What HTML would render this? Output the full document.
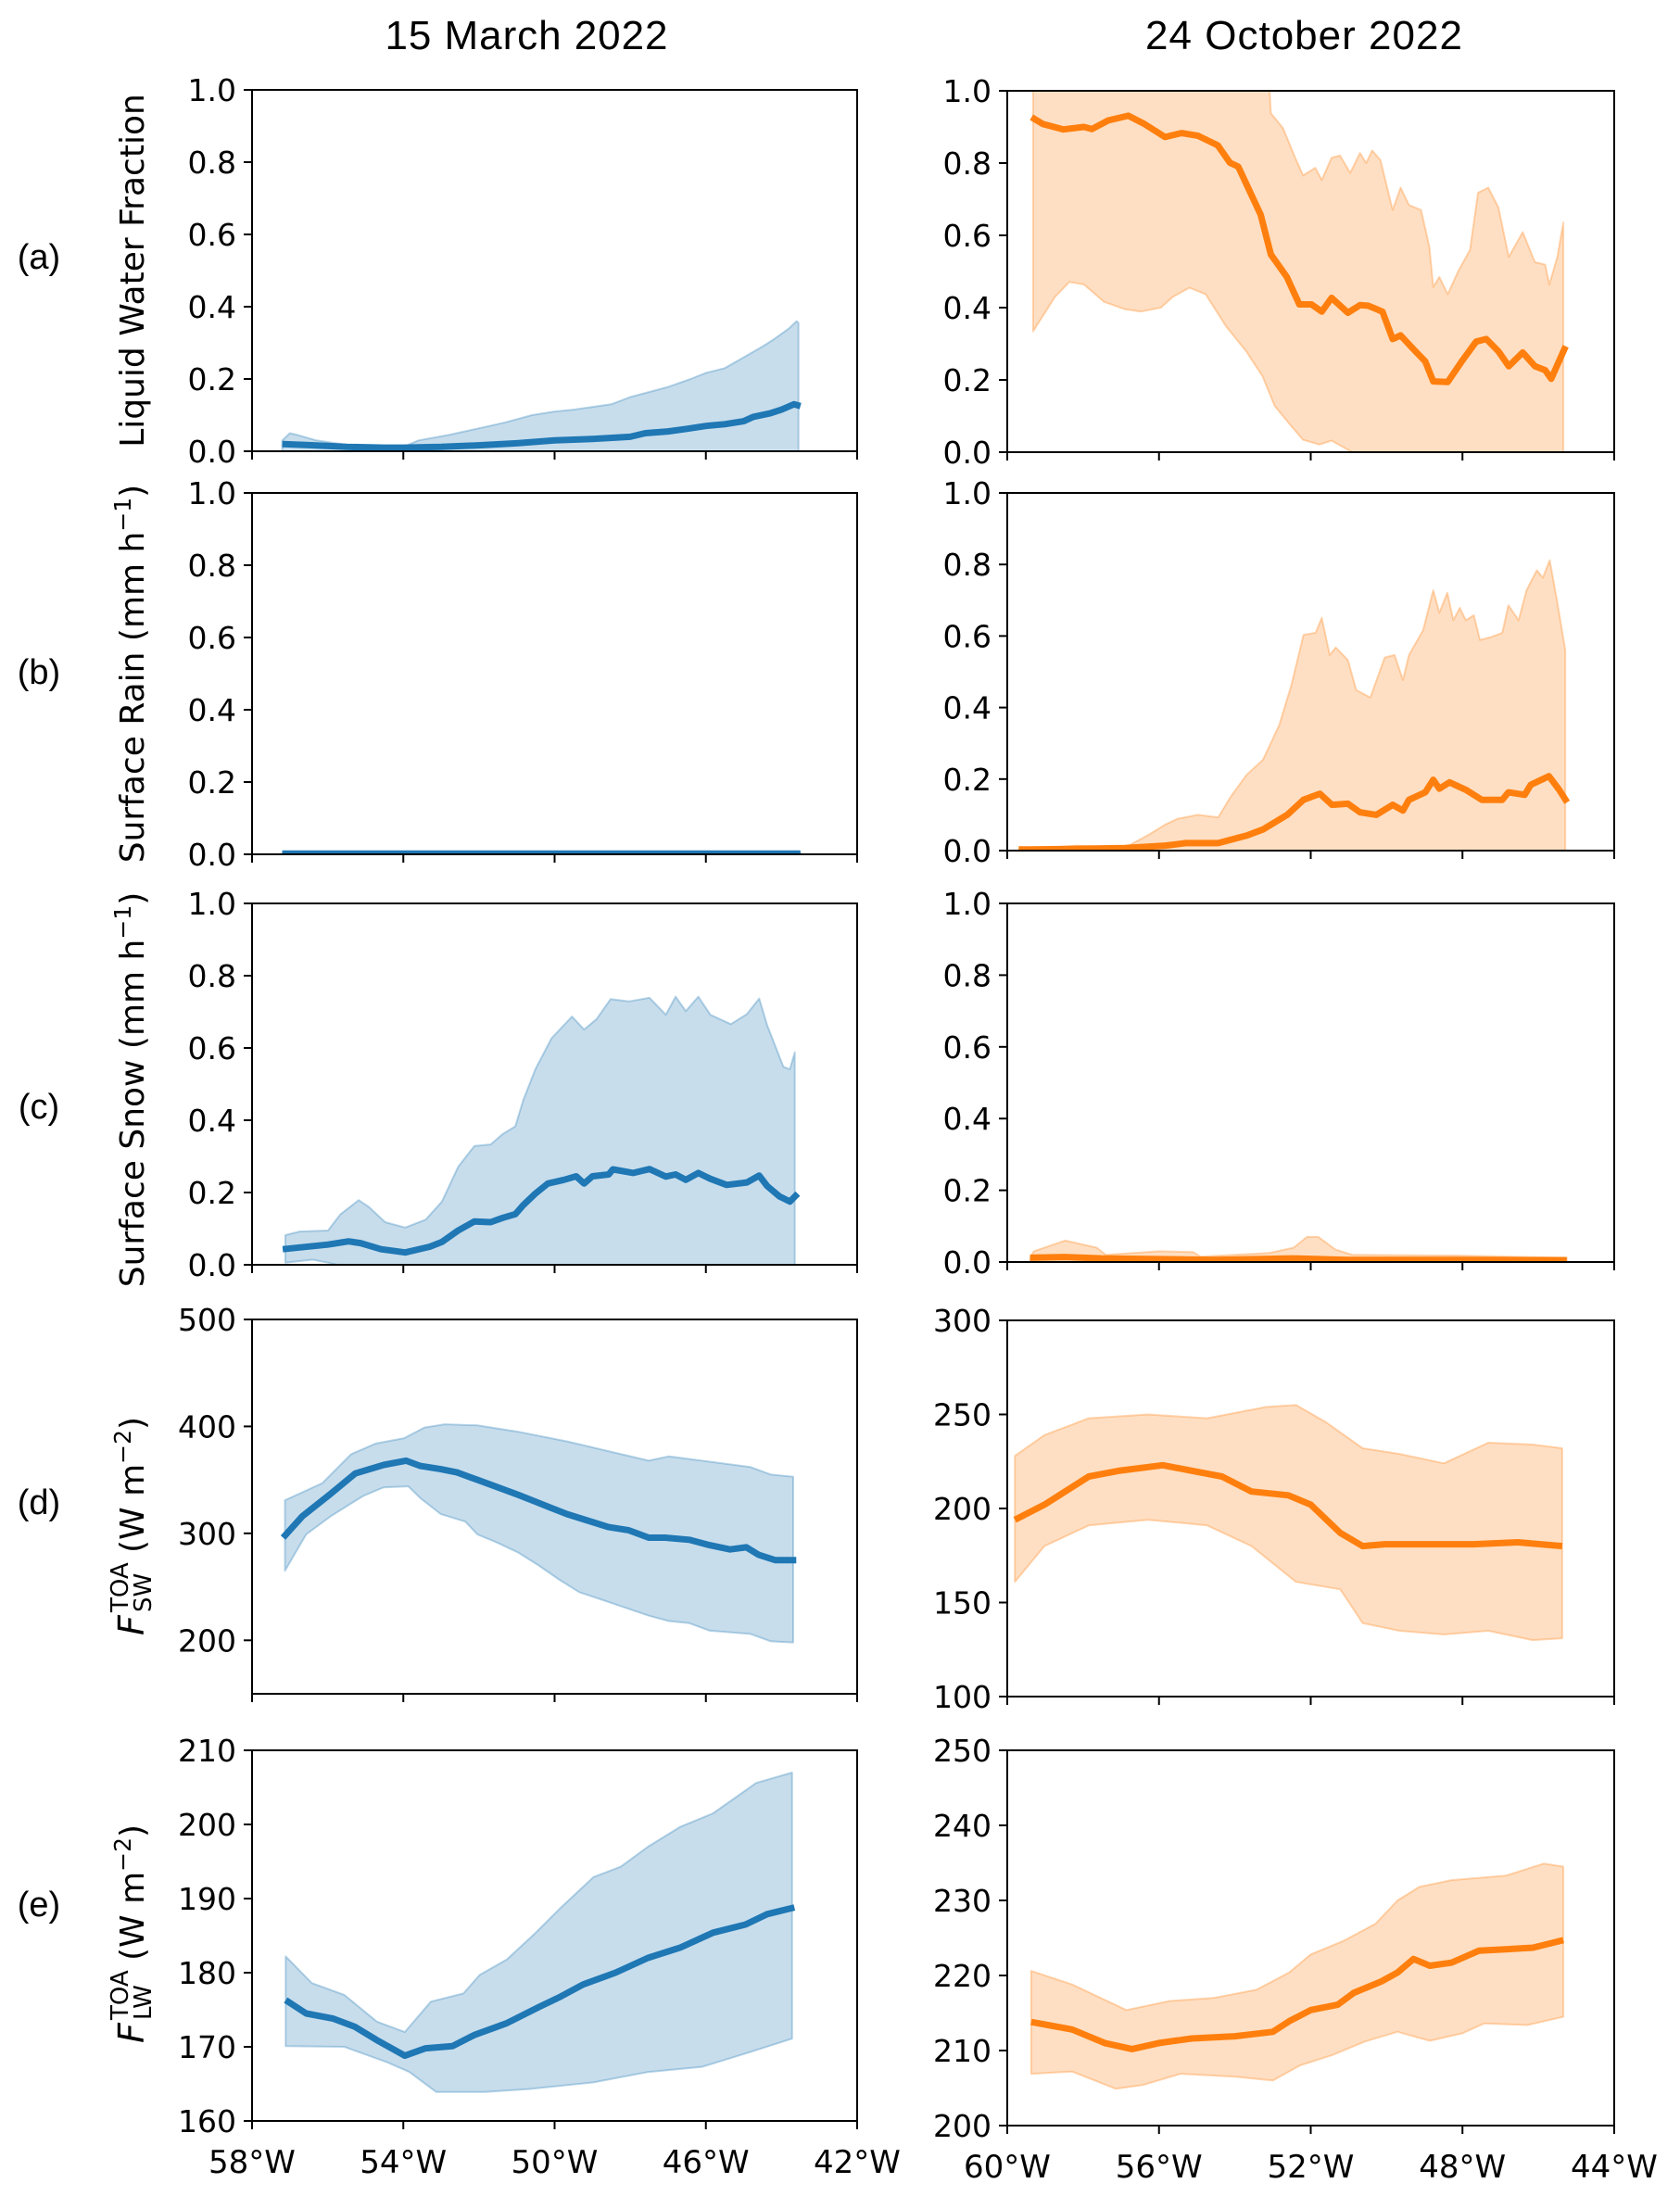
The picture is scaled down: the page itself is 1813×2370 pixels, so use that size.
<!DOCTYPE html>
<html><head><meta charset="utf-8">
<style>
html,body{margin:0;padding:0;background:#fff;}
svg{display:block;}
text{font-family:"DejaVu Sans","Liberation Sans",sans-serif;fill:#000;}
.ttl{font-family:"Liberation Sans","DejaVu Sans",sans-serif;font-size:44px;}
.rl{font-family:"Liberation Sans","DejaVu Sans",sans-serif;font-size:38px;}
</style></head>
<body>
<svg id="fig" width="1813" height="2370" viewBox="0 0 1813 2370" xmlns="http://www.w3.org/2000/svg">
<text class="ttl" x="568" y="53" text-anchor="middle" textLength="305">15 March 2022</text>
<text class="ttl" x="1407" y="53" text-anchor="middle" textLength="342">24 October 2022</text>
<text class="rl" x="42" y="290" text-anchor="middle">(a)</text>
<text class="rl" x="42" y="738" text-anchor="middle">(b)</text>
<text class="rl" x="42" y="1207" text-anchor="middle">(c)</text>
<text class="rl" x="42" y="1634" text-anchor="middle">(d)</text>
<text class="rl" x="42" y="2068" text-anchor="middle">(e)</text>
</svg>
<script>
// ---------- data (longitude in degrees, negative = W) ----------
const xTicksLeft = [-58,-54,-50,-46,-42];
const xTickLabelsLeft = ["58°W","54°W","50°W","46°W","42°W"];
const xTicksRight = [-60,-56,-52,-48,-44];
const xTickLabelsRight = ["60°W","56°W","52°W","48°W","44°W"];
const yTicksFrac = [0,0.2,0.4,0.6,0.8,1.0];
const yTickLabelsFrac = ["0.0","0.2","0.4","0.6","0.8","1.0"];
const yTicksSWL = [200,300,400,500];
const yTicksSWR = [100,150,200,250,300];
const yTicksLWL = [160,170,180,190,200,210];
const yTicksLWR = [200,210,220,230,240,250];

// (a) left
const aLMeanLon = [-57.2,-56.5,-55.5,-54.5,-54,-53,-51.9,-51,-50,-49,-48,-47.6,-47,-46.5,-46,-45.5,-45,-44.75,-44.3,-44,-43.67,-43.5];
const aLMean    = [0.02,0.017,0.012,0.01,0.01,0.012,0.017,0.022,0.03,0.034,0.04,0.05,0.055,0.062,0.07,0.075,0.083,0.095,0.105,0.115,0.13,0.125];
const aLHiLon = [-57.2,-57.0,-56.8,-56.3,-55.5,-54.7,-54,-53.6,-52.8,-51.9,-51.3,-50.6,-50,-49.5,-48.5,-48,-47,-46.4,-46,-45.5,-45,-44.5,-44.2,-43.8,-43.6,-43.55];
const aLHi    = [0.03,0.05,0.045,0.03,0.018,0.01,0.012,0.03,0.045,0.066,0.08,0.1,0.11,0.115,0.13,0.15,0.178,0.2,0.217,0.23,0.26,0.29,0.31,0.34,0.36,0.355];
const aLLoLon = [-57.2,-43.55];
const aLLo    = [0,0];
// (a) right
const aRMeanLon = [-59.36,-59.06,-58.52,-57.98,-57.77,-57.34,-56.81,-56.38,-55.84,-55.41,-54.98,-54.45,-54.13,-53.91,-53.59,-53.32,-53.05,-52.63,-52.30,-51.98,-51.71,-51.45,-51.02,-50.70,-50.48,-50.11,-49.84,-49.63,-49.30,-48.98,-48.77,-48.39,-48.02,-47.64,-47.37,-47.05,-46.78,-46.41,-46.09,-45.82,-45.66,-45.28];
const aRMean    = [0.927,0.908,0.893,0.9,0.894,0.918,0.931,0.908,0.872,0.883,0.876,0.849,0.801,0.79,0.718,0.657,0.547,0.485,0.409,0.409,0.389,0.427,0.386,0.407,0.405,0.389,0.313,0.323,0.286,0.251,0.196,0.194,0.251,0.306,0.313,0.279,0.238,0.276,0.238,0.227,0.203,0.293];
const aRHiLon = [-59.32,-53.11,-53.05,-52.73,-52.41,-52.20,-51.88,-51.71,-51.45,-51.23,-50.96,-50.70,-50.54,-50.38,-50.16,-49.84,-49.63,-49.41,-49.09,-48.87,-48.77,-48.61,-48.39,-48.12,-47.80,-47.59,-47.32,-47.05,-46.78,-46.41,-46.09,-45.82,-45.71,-45.50,-45.34];
const aRHi    = [1.05,1.05,0.938,0.897,0.815,0.766,0.787,0.753,0.815,0.821,0.773,0.828,0.8,0.835,0.808,0.67,0.732,0.684,0.67,0.567,0.457,0.485,0.437,0.499,0.56,0.718,0.732,0.677,0.54,0.609,0.526,0.519,0.464,0.54,0.636];
const aRLoLon = [-59.32,-58.74,-58.36,-57.98,-57.45,-56.91,-56.48,-55.95,-55.63,-55.20,-54.77,-54.23,-53.70,-53.27,-52.95,-52.52,-52.20,-51.77,-51.45,-50.91,-45.34];
const aRLo    = [0.334,0.43,0.471,0.464,0.416,0.396,0.389,0.4,0.43,0.455,0.437,0.348,0.279,0.21,0.128,0.073,0.034,0.021,0.032,0,0];

// (b) left
const bLMeanLon = [-57.2,-43.5];
const bLMean    = [0.002,0.002];
const bLHiLon = [-57.2,-43.5];
const bLHi    = [0.004,0.004];
const bLLoLon = [-57.2,-43.5];
const bLLo    = [0,0];
// (b) right
const bRMeanLon = [-59.7,-59.41,-56.90,-55.83,-55.29,-54.44,-53.69,-53.26,-52.62,-52.19,-51.76,-51.44,-51.02,-50.70,-50.27,-49.84,-49.57,-49.41,-48.98,-48.77,-48.61,-48.34,-47.91,-47.49,-46.95,-46.79,-46.36,-46.20,-45.88,-45.72,-45.45,-45.24];
const bRMean    = [0.003,0.003,0.007,0.014,0.021,0.021,0.042,0.059,0.1,0.142,0.159,0.128,0.131,0.107,0.1,0.128,0.112,0.142,0.163,0.198,0.173,0.191,0.17,0.142,0.142,0.163,0.156,0.184,0.2,0.208,0.17,0.135];
const bRHiLon = [-59.7,-59.41,-58.18,-56.90,-56.26,-55.83,-55.51,-54.97,-54.44,-54.12,-53.69,-53.26,-52.83,-52.51,-52.19,-51.87,-51.71,-51.50,-51.34,-51.02,-50.80,-50.43,-50.05,-49.79,-49.57,-49.41,-49.04,-48.77,-48.61,-48.40,-48.24,-48.07,-47.91,-47.70,-47.54,-47.27,-46.95,-46.79,-46.52,-46.31,-46.04,-45.88,-45.70,-45.51,-45.29];
const bRHi    = [0.003,0.003,0.014,0.008,0.045,0.073,0.089,0.1,0.093,0.149,0.212,0.254,0.351,0.463,0.603,0.609,0.651,0.547,0.568,0.533,0.449,0.428,0.54,0.547,0.477,0.547,0.616,0.728,0.665,0.721,0.644,0.679,0.644,0.658,0.589,0.596,0.609,0.686,0.644,0.728,0.784,0.763,0.812,0.7,0.561];
const bRLoLon = [-59.7,-45.29];
const bRLo    = [0,0];

// (c) left
const cLMeanLon = [-57.19,-55.99,-55.45,-55.13,-54.59,-53.95,-53.30,-52.98,-52.55,-52.12,-51.69,-51.37,-51.04,-50.83,-50.51,-50.18,-49.75,-49.43,-49.22,-49.0,-48.57,-48.46,-47.92,-47.49,-47.06,-46.80,-46.53,-46.20,-45.88,-45.45,-44.91,-44.59,-44.38,-44.05,-43.78,-43.57];
const cLMean    = [0.043,0.056,0.065,0.06,0.043,0.034,0.05,0.063,0.095,0.12,0.118,0.13,0.14,0.165,0.197,0.225,0.235,0.245,0.225,0.245,0.25,0.264,0.254,0.265,0.244,0.25,0.235,0.254,0.238,0.221,0.228,0.247,0.218,0.189,0.175,0.197];
const cLHiLon = [-57.12,-56.74,-55.99,-55.67,-55.18,-54.91,-54.48,-53.95,-53.41,-52.98,-52.55,-52.12,-51.69,-51.37,-51.04,-50.83,-50.51,-50.08,-49.54,-49.22,-48.89,-48.52,-48.03,-47.49,-47.06,-46.80,-46.53,-46.20,-45.88,-45.34,-44.91,-44.59,-44.38,-43.95,-43.78,-43.65];
const cLHi    = [0.082,0.092,0.095,0.139,0.179,0.16,0.118,0.103,0.125,0.175,0.271,0.329,0.333,0.362,0.383,0.455,0.541,0.627,0.687,0.651,0.68,0.735,0.729,0.739,0.692,0.742,0.702,0.742,0.692,0.666,0.694,0.737,0.663,0.548,0.541,0.588];
const cLLoLon = [-57.12,-56.4,-55.99,-55.75,-43.65];
const cLLo    = [0.006,0.014,0.006,0,0];
// (c) right
const cRMeanLon = [-59.4,-58.5,-57.5,-56,-54.5,-52.5,-51,-48,-45.25];
const cRMean    = [0.012,0.014,0.01,0.008,0.006,0.01,0.006,0.006,0.005];
const cRHiLon = [-59.4,-59.3,-58.47,-57.64,-57.4,-56.0,-55.1,-54.9,-53.1,-52.45,-52.1,-51.8,-51.35,-50.9,-48.15,-45.25];
const cRHi    = [0.01,0.03,0.06,0.04,0.02,0.03,0.028,0.015,0.025,0.04,0.07,0.07,0.035,0.02,0.018,0.012];
const cRLoLon = [-59.4,-45.25];
const cRLo    = [0,0];

// (d) left
const dLMeanLon = [-57.18,-56.67,-55.92,-55.27,-54.52,-53.93,-53.55,-53.01,-52.58,-52.04,-51.50,-50.96,-50.53,-50.10,-49.67,-49.13,-48.59,-48.05,-47.51,-47.08,-46.44,-45.90,-45.36,-44.93,-44.61,-44.17,-43.61];
const dLMean    = [296,316,337,356,364,368,363,360,357,350,343,336,330,324,318,312,306,303,296,296,294,289,285,287,280,275,275];
const dLHiLon = [-57.13,-56.14,-55.38,-54.73,-53.98,-53.44,-52.90,-52.04,-50.96,-49.67,-48.59,-47.51,-46.98,-45.90,-44.82,-44.28,-43.69];
const dLHi    = [331,347,374,384,389,399,402,401,395,386,377,368,372,367,362,355,353];
const dLLoLon = [-57.13,-56.57,-55.92,-55.06,-54.52,-53.87,-53.55,-53.01,-52.36,-52.04,-51.50,-50.96,-50.42,-49.89,-49.35,-48.59,-47.51,-46.98,-46.44,-45.90,-44.82,-44.28,-43.69];
const dLLo    = [265,299,316,335,343,344,333,318,311,299,291,282,270,257,245,236,223,218,216,209,206,199,198];
// (d) right
const dRMeanLon = [-59.80,-59.02,-57.85,-57.07,-55.90,-55.12,-54.34,-53.56,-52.59,-52.0,-51.22,-50.63,-50.05,-48.88,-47.71,-46.54,-45.37];
const dRMean    = [194,202,217,220,223,220,217,209,207,202,187,180,181,181,181,182,180];
const dRHiLon = [-59.80,-59.02,-57.85,-56.29,-54.73,-53.17,-52.39,-51.61,-50.63,-49.66,-48.49,-47.32,-46.15,-45.37];
const dRHi    = [228,239,248,250,248,254,255,246,232,229,224,235,234,232];
const dRLoLon = [-59.80,-59.02,-57.85,-56.29,-54.73,-53.56,-52.39,-51.22,-50.63,-49.66,-48.49,-47.32,-46.15,-45.37];
const dRLo    = [161,180,191,194,191,180,161,157,139,135,133,135,130,131];

// (e) left
const eLMeanLon = [-57.11,-56.57,-55.85,-55.28,-54.70,-53.96,-53.41,-52.70,-52.12,-51.26,-50.40,-49.83,-49.25,-48.39,-47.53,-46.67,-45.81,-44.95,-44.38,-43.66];
const eLMean    = [176.3,174.5,173.8,172.7,170.9,168.8,169.8,170.1,171.6,173.2,175.4,176.8,178.4,180,182,183.4,185.4,186.5,187.9,188.8];
const eLHiLon = [-57.11,-56.42,-55.56,-54.70,-53.96,-53.27,-52.41,-51.98,-51.26,-50.54,-49.83,-48.97,-48.25,-47.53,-46.67,-45.81,-44.67,-43.72];
const eLHi    = [182.2,178.6,177,173.4,172,176.1,177.2,179.7,181.8,185.2,188.8,192.9,194.3,197,199.7,201.5,205.6,207];
const eLLoLon = [-57.11,-55.56,-54.42,-53.84,-53.13,-51.84,-50.69,-48.97,-47.53,-46.10,-44.95,-43.72];
const eLLo    = [170.1,170,167.9,166.6,163.9,163.9,164.3,165.2,166.6,167.3,169.1,171.1];
// (e) right
const eRMeanLon = [-59.37,-58.29,-57.43,-56.71,-56.0,-55.14,-54.0,-53.0,-52.57,-52.0,-51.29,-50.86,-50.14,-49.71,-49.29,-48.86,-48.29,-47.57,-46.86,-46.14,-45.34];
const eRMean    = [213.8,212.8,211,210.2,211,211.6,211.9,212.5,213.9,215.4,216.1,217.7,219.2,220.4,222.2,221.3,221.7,223.3,223.5,223.7,224.7];
const eRHiLon = [-59.37,-58.29,-56.86,-55.71,-54.57,-53.43,-52.57,-52.0,-51.14,-50.29,-49.71,-49.14,-48.29,-46.86,-45.86,-45.34];
const eRHi    = [220.6,218.8,215.4,216.6,217,218.1,220.4,222.8,224.6,226.9,230,231.8,232.7,233.3,234.9,234.5];
const eRLoLon = [-59.37,-58.29,-57.14,-56.43,-55.43,-54.0,-53.0,-52.29,-51.43,-50.57,-49.71,-48.86,-48.0,-47.43,-46.29,-45.34];
const eRLo    = [206.9,207.2,204.9,205.4,206.9,206.5,206,208,209.4,211.2,212.5,211.3,212.3,213.6,213.4,214.5];

// ---------- drawing ----------
const NS = "http://www.w3.org/2000/svg";
const svg = document.getElementById("fig");
const BLUE = "#1f77b4", ORANGE = "#ff7f0e";
const LEFT = {x0:272, x1:925, lon0:-58, lon1:-42};
const RIGHT = {x0:1087, x1:1742, lon0:-60, lon1:-44};

function mk(tag, attrs, parent){
  const e = document.createElementNS(NS, tag);
  for (const k in attrs) e.setAttribute(k, attrs[k]);
  (parent||svg).appendChild(e);
  return e;
}

function panel(id, col, top, bot, ymin, ymax, yticks, ylabels, showX, color, s){
  const g = mk("g", {});
  
  
  const sx = v => col.x0 + (v - col.lon0) / (col.lon1 - col.lon0) * (col.x1 - col.x0);
  const sy = v => bot - (v - ymin) / (ymax - ymin) * (bot - top);
  const clip = mk("clipPath", {id: "clip-" + id}, g);
  mk("rect", {x: col.x0, y: top, width: col.x1 - col.x0, height: bot - top}, clip);
  const dg = mk("g", {"clip-path": "url(#clip-" + id + ")"}, g);
  // band
  let pts = [];
  for (let i = 0; i < s.hiLon.length; i++) pts.push(sx(s.hiLon[i]).toFixed(1) + "," + sy(s.hi[i]).toFixed(1));
  for (let i = s.loLon.length - 1; i >= 0; i--) pts.push(sx(s.loLon[i]).toFixed(1) + "," + sy(s.lo[i]).toFixed(1));
  const band = mk("polygon", {points: pts.join(" "), fill: color, "fill-opacity": 0.25, stroke: color, "stroke-opacity": 0.3, "stroke-width": 2, "stroke-linejoin": "round"}, dg);
  
  
  let lp = [];
  for (let i = 0; i < s.meanLon.length; i++) lp.push(sx(s.meanLon[i]).toFixed(1) + "," + sy(s.mean[i]).toFixed(1));
  const line = mk("polyline", {points: lp.join(" "), fill: "none", stroke: color, "stroke-width": 7, "stroke-linejoin": "round"}, dg);
  
  
  // frame
  const fr = mk("rect", {x: col.x0, y: top, width: col.x1 - col.x0, height: bot - top, fill: "none", stroke: "#000", "stroke-width": 2}, g);
  
  
  // y ticks
  for (let i = 0; i < yticks.length; i++) {
    const y = sy(yticks[i]);
    mk("line", {x1: col.x0 - 9, x2: col.x0, y1: y, y2: y, stroke: "#000", "stroke-width": 2}, g);
    const t = mk("text", {x: col.x0 - 17, y: y + 12, "text-anchor": "end", "font-size": 33}, g);
    t.textContent = ylabels[i];
    
    
  }
  // x ticks
  const xt = col === LEFT ? xTicksLeft : xTicksRight;
  const xl = col === LEFT ? xTickLabelsLeft : xTickLabelsRight;
  for (let i = 0; i < xt.length; i++) {
    const x = sx(xt[i]);
    mk("line", {x1: x, x2: x, y1: bot, y2: bot + 9, stroke: "#000", "stroke-width": 2}, g);
    if (showX) {
      const t = mk("text", {x: x, y: bot + 56, "text-anchor": "middle", "font-size": 34}, g);
      t.textContent = xl[i];
      
      
    }
  }
}

const fr = yTicksFrac, fl = yTickLabelsFrac;
panel("a-left", LEFT, 97, 487, 0, 1, fr, fl, false, BLUE, {meanLon:aLMeanLon, mean:aLMean, hiLon:aLHiLon, hi:aLHi, loLon:aLLoLon, lo:aLLo});
panel("a-right", RIGHT, 98, 488, 0, 1, fr, fl, false, ORANGE, {meanLon:aRMeanLon, mean:aRMean, hiLon:aRHiLon, hi:aRHi, loLon:aRLoLon, lo:aRLo});
panel("b-left", LEFT, 532, 922, 0, 1, fr, fl, false, BLUE, {meanLon:bLMeanLon, mean:bLMean, hiLon:bLHiLon, hi:bLHi, loLon:bLLoLon, lo:bLLo});
panel("b-right", RIGHT, 532, 918, 0, 1, fr, fl, false, ORANGE, {meanLon:bRMeanLon, mean:bRMean, hiLon:bRHiLon, hi:bRHi, loLon:bRLoLon, lo:bRLo});
panel("c-left", LEFT, 975, 1365, 0, 1, fr, fl, false, BLUE, {meanLon:cLMeanLon, mean:cLMean, hiLon:cLHiLon, hi:cLHi, loLon:cLLoLon, lo:cLLo});
panel("c-right", RIGHT, 975, 1362, 0, 1, fr, fl, false, ORANGE, {meanLon:cRMeanLon, mean:cRMean, hiLon:cRHiLon, hi:cRHi, loLon:cRLoLon, lo:cRLo});
panel("d-left", LEFT, 1424, 1828, 150, 500, yTicksSWL, yTicksSWL.map(String), false, BLUE, {meanLon:dLMeanLon, mean:dLMean, hiLon:dLHiLon, hi:dLHi, loLon:dLLoLon, lo:dLLo});
panel("d-right", RIGHT, 1425, 1831, 100, 300, yTicksSWR, yTicksSWR.map(String), false, ORANGE, {meanLon:dRMeanLon, mean:dRMean, hiLon:dRHiLon, hi:dRHi, loLon:dRLoLon, lo:dRLo});
panel("e-left", LEFT, 1889, 2289, 160, 210, yTicksLWL, yTicksLWL.map(String), true, BLUE, {meanLon:eLMeanLon, mean:eLMean, hiLon:eLHiLon, hi:eLHi, loLon:eLLoLon, lo:eLLo});
panel("e-right", RIGHT, 1889, 2294, 200, 250, yTicksLWR, yTicksLWR.map(String), true, ORANGE, {meanLon:eRMeanLon, mean:eRMean, hiLon:eRHiLon, hi:eRHi, loLon:eRLoLon, lo:eRLo});

// y-axis titles
function ylab(name, cy, html){
  const g = mk("g", {transform: "translate(155," + cy + ") rotate(-90)"});
  
  
  g.innerHTML = html;
}
ylab("y-axis-title-a", 292, '<text x="0" y="0" text-anchor="middle" font-size="36">Liquid Water Fraction</text>');
ylab("y-axis-title-b", 727, '<text x="0" y="0" text-anchor="middle" font-size="36">Surface Rain (mm h<tspan font-size="25" dy="-14">−1</tspan><tspan dy="14">)</tspan></text>');
ylab("y-axis-title-c", 1176, '<text x="0" y="0" text-anchor="middle" font-size="36">Surface Snow (mm h<tspan font-size="25" dy="-14">−1</tspan><tspan dy="14">)</tspan></text>');
const flux = (sub) => '<text x="-125" y="0" font-size="38" font-style="italic">F</text>' +
  '<text x="-100" y="-17" font-size="26">TOA</text>' +
  '<text x="-100" y="8" font-size="26">' + sub + '</text>' +
  '<text x="-36" y="0" font-size="36">(W m<tspan font-size="25" dy="-14">−2</tspan><tspan dy="14">)</tspan></text>';
ylab("y-axis-title-d", 1640, flux("SW"));
ylab("y-axis-title-e", 2080, flux("LW"));
</script>
</body></html>
